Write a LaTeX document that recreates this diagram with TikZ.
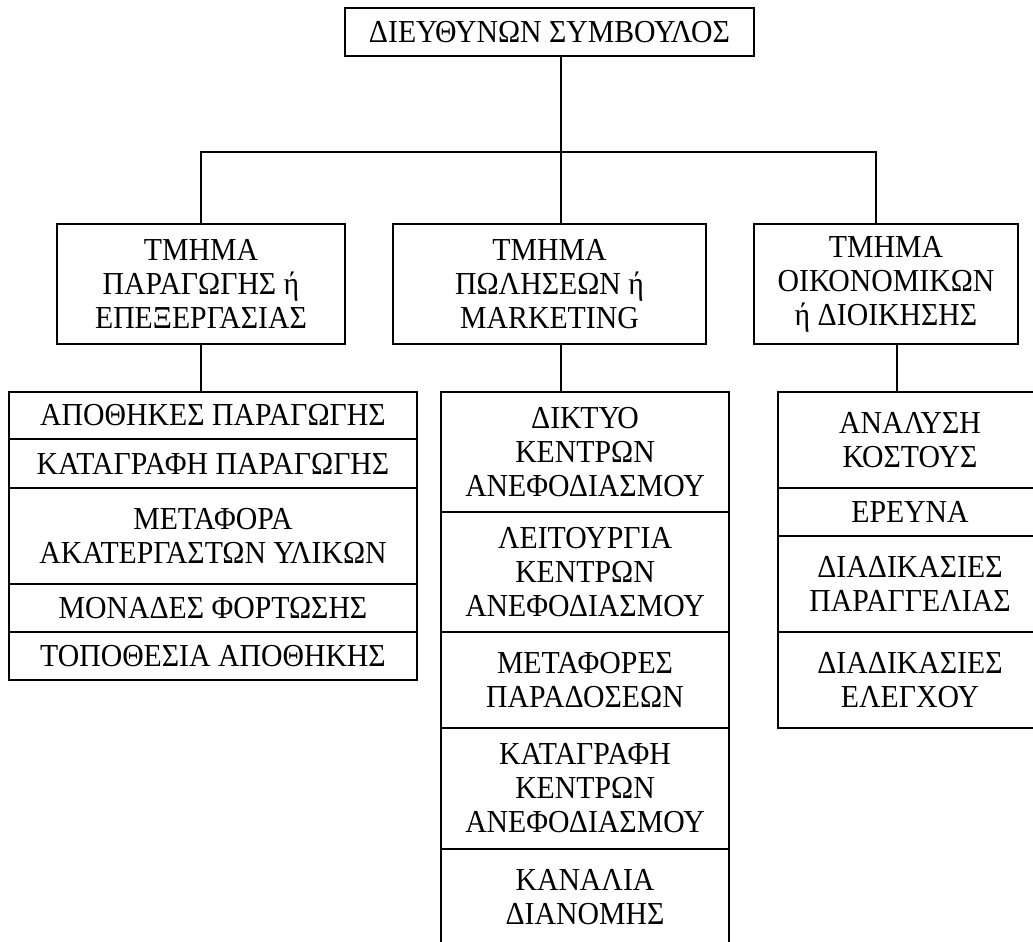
\documentclass[tikz,border=0pt]{standalone}
\usepackage{fontspec}
\setmainfont{Liberation Serif}[FakeStretch=0.93]
\newcommand\orgfs{\fontsize{32}{34}\selectfont}
\begin{document}
\begin{tikzpicture}[x=1pt,y=-1pt,
  orgbox/.style={draw, line width=1.6pt, inner sep=0pt, align=center, font=\orgfs},
  conn/.style={line width=1.6pt}]
\useasboundingbox (0,0) rectangle (1033,942);
% top
\node[orgbox, minimum width=409, minimum height=48] (ceo) at (549.5,32) {ΔΙΕΥΘΥΝΩΝ ΣΥΜΒΟΥΛΟΣ};
% departments
\node[orgbox, minimum width=288, minimum height=120] (left) at (201,284) {ΤΜΗΜΑ\\ΠΑΡΑΓΩΓΗΣ ή\\ΕΠΕΞΕΡΓΑΣΙΑΣ};
\node[orgbox, minimum width=313, minimum height=120] (mid) at (549.5,284) {ΤΜΗΜΑ\\ΠΩΛΗΣΕΩΝ ή\\MARKETING};
\node[orgbox, minimum width=264, minimum height=120] (right) at (886,284) {ΤΜΗΜΑ\\ΟΙΚΟΝΟΜΙΚΩΝ\\ή ΔΙΟΙΚΗΣΗΣ};
% left stack
\node[orgbox, minimum width=408, minimum height=47] (ls1) at (213,415.5) {ΑΠΟΘΗΚΕΣ ΠΑΡΑΓΩΓΗΣ};
\node[orgbox, minimum width=408, minimum height=49] (ls2) at (213,463.5) {ΚΑΤΑΓΡΑΦΗ ΠΑΡΑΓΩΓΗΣ};
\node[orgbox, minimum width=408, minimum height=96] (ls3) at (213,536) {ΜΕΤΑΦΟΡΑ\\ΑΚΑΤΕΡΓΑΣΤΩΝ ΥΛΙΚΩΝ};
\node[orgbox, minimum width=408, minimum height=48] (ls4) at (213,608) {ΜΟΝΑΔΕΣ ΦΟΡΤΩΣΗΣ};
\node[orgbox, minimum width=408, minimum height=48] (ls5) at (213,656) {ΤΟΠΟΘΕΣΙΑ ΑΠΟΘΗΚΗΣ};
% middle stack
\node[orgbox, minimum width=288, minimum height=120] (ms1) at (585,452) {ΔΙΚΤΥΟ\\ΚΕΝΤΡΩΝ\\ΑΝΕΦΟΔΙΑΣΜΟΥ};
\node[orgbox, minimum width=288, minimum height=120] (ms2) at (585,572) {ΛΕΙΤΟΥΡΓΙΑ\\ΚΕΝΤΡΩΝ\\ΑΝΕΦΟΔΙΑΣΜΟΥ};
\node[orgbox, minimum width=288, minimum height=96] (ms3) at (585,680) {ΜΕΤΑΦΟΡΕΣ\\ΠΑΡΑΔΟΣΕΩΝ};
\node[orgbox, minimum width=288, minimum height=121] (ms4) at (585,788.5) {ΚΑΤΑΓΡΑΦΗ\\ΚΕΝΤΡΩΝ\\ΑΝΕΦΟΔΙΑΣΜΟΥ};
\node[orgbox, minimum width=288, minimum height=96] (ms5) at (585,897) {ΚΑΝΑΛΙΑ\\ΔΙΑΝΟΜΗΣ};
% right stack
\node[orgbox, minimum width=264, minimum height=96] (rs1) at (910,440) {ΑΝΑΛΥΣΗ\\ΚΟΣΤΟΥΣ};
\node[orgbox, minimum width=264, minimum height=48] (rs2) at (910,512) {ΕΡΕΥΝΑ};
\node[orgbox, minimum width=264, minimum height=96] (rs3) at (910,584) {ΔΙΑΔΙΚΑΣΙΕΣ\\ΠΑΡΑΓΓΕΛΙΑΣ};
\node[orgbox, minimum width=264, minimum height=96] (rs4) at (910,680) {ΔΙΑΔΙΚΑΣΙΕΣ\\ΕΛΕΓΧΟΥ};
% connectors
\coordinate (bus) at ([xshift=11.5]ceo.south |- 0,152);
\draw[conn] ([xshift=11.5]ceo.south) -- (bus);
\draw[conn] (left.north) |- (bus);
\draw[conn] (bus) -| ([xshift=-10]right.north);
\draw[conn] (bus) -- ([xshift=11.5]mid.north);
\draw[conn] (left.south) -- (left.south |- ls1.north);
\draw[conn] ([xshift=11.5]mid.south) -- ([xshift=11.5]mid.south |- ms1.north);
\draw[conn] ([xshift=11]right.south) -- ([xshift=11]right.south |- rs1.north);
\end{tikzpicture}
\end{document}
